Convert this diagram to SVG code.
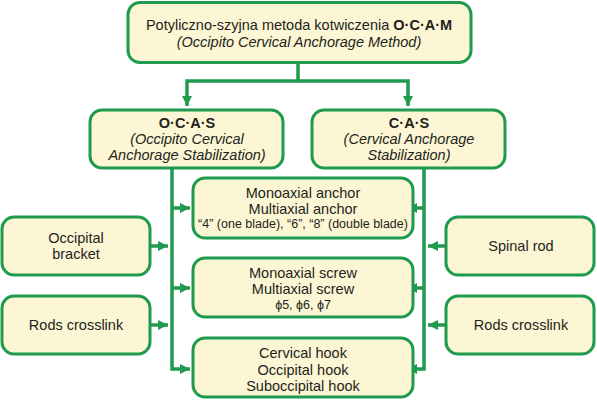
<svg xmlns="http://www.w3.org/2000/svg" width="597" height="400" viewBox="0 0 597 400">
<defs>
<style>
.box{fill:#fcf6d4;stroke:#1f9a4e;stroke-width:3}
.ln{fill:none;stroke:#1f9a4e;stroke-width:3.5}
.t{font-family:"Liberation Sans",Arial,sans-serif;font-size:14.5px;fill:#231f20;text-anchor:middle}
.s{font-size:12.5px}
.i{font-style:italic}
.b{font-weight:bold}
</style>
<marker id="ah" viewBox="0 0 10 10" refX="10" refY="5" markerWidth="10" markerHeight="10" orient="auto" markerUnits="userSpaceOnUse">
<path d="M0,0 L10,5 L0,10 z" fill="#1f9a4e"/>
</marker>
</defs>
<rect width="597" height="400" fill="#ffffff"/>
<g id="connectors">
<path class="ln" d="M298,63 V81 H187 V106" marker-end="url(#ah)"/>
<path class="ln" d="M298,81 H408 V106" marker-end="url(#ah)"/>
<path class="ln" d="M172,168 V369 H190" marker-end="url(#ah)"/>
<path class="ln" d="M172,208 H190" marker-end="url(#ah)"/>
<path class="ln" d="M172,288 H190" marker-end="url(#ah)"/>
<path class="ln" d="M424,168 V369 H407" marker-end="url(#ah)"/>
<path class="ln" d="M424,208 H407" marker-end="url(#ah)"/>
<path class="ln" d="M424,288 H407" marker-end="url(#ah)"/>
<path class="ln" d="M150,246 H168" marker-end="url(#ah)"/>
<path class="ln" d="M150,325 H168" marker-end="url(#ah)"/>
<path class="ln" d="M446,246 H428" marker-end="url(#ah)"/>
<path class="ln" d="M446,325 H428" marker-end="url(#ah)"/>
</g>
<g id="ocam">
<rect class="box" x="128" y="2.5" width="343" height="60" rx="12"/>
<text class="t" x="299" y="30">Potyliczno-szyjna metoda kotwiczenia <tspan class="b">O·C·A·M</tspan></text>
<text class="t i" x="299" y="47">(Occipito Cervical Anchorage Method)</text>
</g>
<g id="ocas">
<rect class="box" x="90" y="110" width="193" height="58" rx="12"/>
<text class="t b" x="187" y="128">O·C·A·S</text>
<text class="t i" x="187" y="144">(Occipito Cervical</text>
<text class="t i" x="187" y="160">Anchorage Stabilization)</text>
</g>
<g id="cas">
<rect class="box" x="312" y="110" width="193" height="58" rx="12"/>
<text class="t b" x="409" y="128">C·A·S</text>
<text class="t i" x="409" y="144">(Cervical Anchorage</text>
<text class="t i" x="409" y="160">Stabilization)</text>
</g>
<g id="anchor">
<rect class="box" x="193" y="178" width="220" height="60" rx="12"/>
<text class="t" x="303" y="198">Monoaxial anchor</text>
<text class="t" x="303" y="214">Multiaxial anchor</text>
<text class="t s" x="303" y="228">“4” (one blade), “6”, “8” (double blade)</text>
</g>
<g id="screw">
<rect class="box" x="193" y="258" width="220" height="59" rx="12"/>
<text class="t" x="303" y="278">Monoaxial screw</text>
<text class="t" x="303" y="294">Multiaxial screw</text>
<text class="t s" x="303" y="309">ϕ5, ϕ6, ϕ7</text>
</g>
<g id="hook">
<rect class="box" x="193" y="338" width="220" height="59" rx="12"/>
<text class="t" x="303" y="358">Cervical hook</text>
<text class="t" x="303" y="375">Occipital hook</text>
<text class="t" x="303" y="391">Suboccipital hook</text>
</g>
<g id="occipital-bracket">
<rect class="box" x="2" y="217" width="148" height="58" rx="12"/>
<text class="t" x="76" y="243">Occipital</text>
<text class="t" x="76" y="259">bracket</text>
</g>
<g id="rods-crosslink-left">
<rect class="box" x="2" y="296" width="148" height="58" rx="12"/>
<text class="t" x="76" y="330">Rods crosslink</text>
</g>
<g id="spinal-rod">
<rect class="box" x="446" y="217" width="148" height="58" rx="12"/>
<text class="t" x="521" y="251">Spinal rod</text>
</g>
<g id="rods-crosslink-right">
<rect class="box" x="446" y="296" width="148" height="58" rx="12"/>
<text class="t" x="521" y="330">Rods crosslink</text>
</g>
</svg>
